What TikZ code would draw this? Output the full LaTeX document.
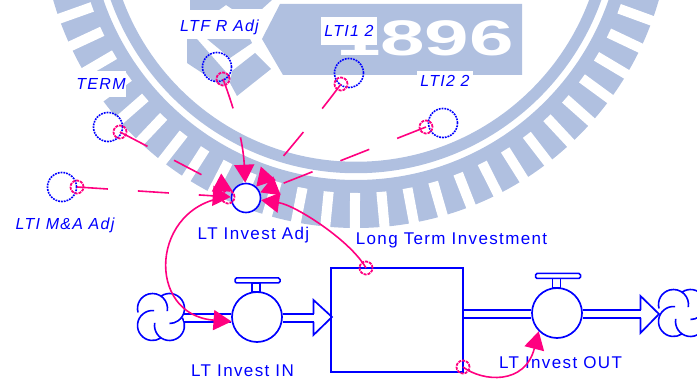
\documentclass[tikz,border=0pt]{standalone}
\usepackage{fontspec}
\setmainfont{Liberation Sans}[LetterSpace=8]
\usetikzlibrary{arrows.meta}
\definecolor{flowblue}{RGB}{0,0,255}
\definecolor{linkpink}{RGB}{255,0,128}
\definecolor{sealblue}{RGB}{176,192,224}

\begin{document}
\begin{tikzpicture}[x=1pt, y=-1pt,
  conv/.style={circle, draw=flowblue, line width=1.6pt, fill=white, minimum size=29pt, inner sep=0pt},
  src/.style={conv, fill=none, dash pattern=on 1.8pt off 1pt},
  pin/.style={circle, draw=linkpink, line width=1.8pt, dash pattern=on 3pt off 1pt, minimum size=13pt, inner sep=0pt},
  stockbox/.style={rectangle, draw=flowblue, line width=1.7pt, minimum width=132pt, minimum height=104pt, inner sep=0pt},
  valve/.style={circle, draw=flowblue, line width=1.7pt, fill=white, minimum size=50pt, inner sep=0pt},
  handle/.style={rectangle, rounded corners=1.5pt, draw=flowblue, line width=1.5pt, minimum width=45pt, minimum height=5pt, inner sep=0pt},
  stem/.style={rectangle, draw=flowblue, line width=1.5pt, minimum width=8pt, minimum height=9pt, inner sep=0pt},
  puff/.style={circle, minimum size=47pt, inner sep=0pt},
  pipe/.style={draw=flowblue, line width=1.6pt, double=white, double distance=6.4pt},
  head/.style={draw=flowblue, line width=1.7pt, line join=miter},
  link/.style={draw=linkpink, line width=1.6pt, -{Triangle[length=18pt,width=20pt]}},
  cut/.style={link, dash pattern=on 31pt off 30pt},
  flowname/.style={font=\fontsize{17}{17}\selectfont, text=flowblue, inner sep=0pt},
  auxname/.style={font=\fontsize{16}{16}\selectfont\itshape, text=flowblue, fill=white, inner sep=0pt},
  clouds/.pic={
    \draw[flowblue, line width=1.6pt]
      (-8.5,-8.5) ++(165:15) arc[start angle=165, end angle=370, radius=15]
      (8.5,-8.5) ++(235:15) arc[start angle=235, end angle=450, radius=15]
      (-8.5,8.5) ++(276:15) arc[start angle=276, end angle=57, radius=15]
      (8.5,8.5) ++(190:15) arc[start angle=190, end angle=-30, radius=15];
  }
]
  \useasboundingbox (0,0) rectangle (697,379);

  % seal in the background
  \begin{scope}
    \clip (0,0) rectangle (697,379);
    \coordinate (seal) at (356,-87);
    \draw[sealblue, line width=11.5pt] (seal) circle[radius=254.5];
    \draw[sealblue, line width=48pt] (seal) circle[radius=291];
    \foreach \a in {20,25.4,...,166} {
      \draw[white, line width=10pt] (seal) ++(\a:280) -- ++(\a:40);
    }
    \fill[sealblue] (262,39) -- (280,4) -- (522,4) -- (522,75) -- (283,75) -- cycle;
    \fill[sealblue] (190,0) -- (272,0) -- (262,9) -- (232,9) -- (226,5) -- (219,10) -- (190,10) -- cycle;
    \fill[sealblue] (187,39) -- (197,39) -- (232,79) -- (222,86) -- (187,63) -- cycle;
    \fill[sealblue] (207,39) -- (250,39) -- (252,43) -- (230,58) -- cycle;
    \fill[sealblue] (255,53) -- (271,69) -- (237,96) -- (230,83) -- (232,71) -- cycle;
    \node[font=\fontsize{50}{50}\selectfont\bfseries, text=white, inner sep=0pt] (year) at (425,38)
      {\addfontfeature{LetterSpace=0}\scalebox{1.6}[1]{1896}};
  \end{scope}

  % labels
  \node[auxname, minimum width=85pt, minimum height=24pt] (lblltf) at (219.5,27) {LTF R Adj};
  \node[auxname, minimum width=56pt, minimum height=28pt] (lbllti1) at (349,31) {LTI1 2};
  \node[auxname, minimum width=50pt, minimum height=26pt] (lblterm) at (101,84) {TERM};
  \node[auxname, minimum width=56pt, minimum height=19pt] (lbllti2) at (445,81) {LTI2 2};
  \node[auxname] (lblma) at (65,225) {LTI M\&A Adj};
  \node[flowname] (lbladj) at (253.5,235) {LT Invest Adj};
  \node[flowname] (lblstock) at (451.5,240) {Long Term Investment};
  \node[flowname] (lblin) at (242.5,371) {LT Invest IN};
  \node[flowname] (lblout) at (560.5,363) {LT Invest OUT};

  % stock and flows
  \node[stockbox] (stock) at (397,320) {};
  \node[valve] (valvein) at (257,317) {};
  \node[valve] (valveout) at (557,313) {};
  \node[handle] (handlein) at (257.5,280.5) {};
  \node[stem] (stemin) at (256,287.5) {};
  \node[handle] (handleout) at (558,276) {};
  \node[stem] (stemout) at (556.5,283) {};
  \node[puff] (cloudin) at (161,317) {};
  \node[puff] (cloudout) at (682,313) {};
  \pic at (cloudin) {clouds};
  \pic at (cloudout) {clouds};
  \coordinate (headin) at (314,318);
  \coordinate (headout) at (641,314);
  \draw[pipe] (184,318) -- (valvein.west |- 0,318);
  \draw[pipe] (valvein.east |- 0,318) -- (headin);
  \draw[pipe] (stock.east |- 0,314) -- (valveout.west |- 0,314);
  \draw[pipe] (valveout.east |- 0,314) -- (headout);
  \draw[head] (headin) ++(-0.5,-4) -- ++(0,-14) -- (332,317) -- (313.5,335) -- ++(0,-13);
  \draw[head] (headout) ++(-0.5,-4) -- ++(0,-14) -- (659,314) -- (640.5,333) -- ++(0,-15);

  % auxiliaries
  \node[conv] (adj) at (246,198) {};
  \node[src] (ltf) at (217,67) {};
  \node[src] (lti1) at (349,73) {};
  \node[src] (term) at (108,127) {};
  \node[src] (lti2) at (443,123) {};
  \node[src] (ma) at (62,187) {};
  \node[pin] (pinltf) at (223,79) {};
  \node[pin] (pinlti1) at (341,84) {};
  \node[pin] (pinterm) at (120,132) {};
  \node[pin] (pinlti2) at (426,127) {};
  \node[pin] (pinma) at (77,187) {};
  \node[pin] (pinadj) at (228,197) {};
  \node[pin] (pinstock) at (366,268) {};
  \node[pin] (pinout) at (463,367) {};

  \draw[cut] (pinltf.center) .. controls (234,108) and (243,140) .. (adj);
  \draw[cut] (pinlti1.center) .. controls (322,110) and (285,155) .. (adj);
  \draw[cut] (pinterm.center) -- (adj);
  \draw[cut] (pinlti2.center) -- (adj);
  \draw[cut] (pinma.center) -- (adj);
  \draw[link] (pinstock.center) .. controls (350,240) and (295,205) .. (adj);
  \draw[link] (pinadj.center) .. controls (150,205) and (145,315) .. (valvein.190);
  \draw[link] (pinout.center) .. controls (483,382) and (525,385) .. (valveout.225);
\end{tikzpicture}
\end{document}
